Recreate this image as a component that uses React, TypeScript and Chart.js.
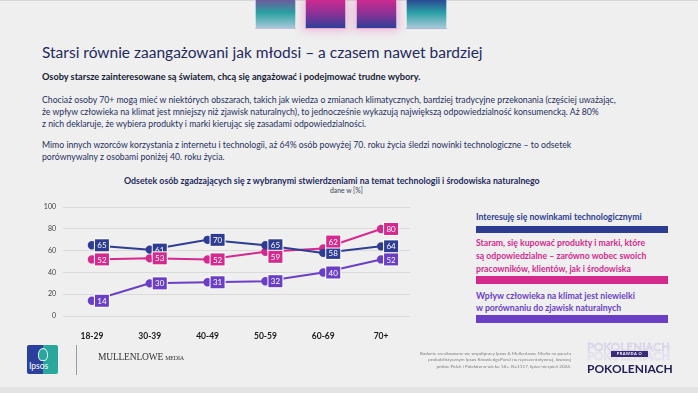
import React, { useEffect, useRef } from 'react';
import { Chart, registerables } from 'chart.js';

Chart.register(...registerables);

// ---------- data ----------
const categories = ['18-29', '30-39', '40-49', '50-59', '60-69', '70+'];
const techValues = [65, 61, 70, 65, 58, 64];
const responsibleValues = [52, 53, 52, 59, 62, 80];
const climateValues = [14, 30, 31, 32, 40, 52];
const yTickValues = [0, 20, 40, 60, 80, 100];

const techName = ['Interesuję się nowinkami technologicznymi'];
const responsibleName = [
  'Staram, się kupować produkty i marki, które',
  'są odpowiedzialne – zarówno wobec swoich',
  'pracowników, klientów, jak i środowiska',
];
const climateName = [
  'Wpływ człowieka na klimat jest niewielki',
  'w porównaniu do zjawisk naturalnych',
];

const titleText = 'Starsi równie zaangażowani jak młodsi – a czasem nawet bardziej';
const leadText = 'Osoby starsze zainteresowane są światem, chcą się angażować i podejmować trudne wybory.';
const para1 = [
  'Chociaż osoby 70+ mogą mieć w niektórych obszarach, takich jak wiedza o zmianach klimatycznych, bardziej tradycyjne przekonania (częściej uważając,',
  'że wpływ człowieka na klimat jest mniejszy niż zjawisk naturalnych), to jednocześnie wykazują największą odpowiedzialność konsumencką. Aż 80%',
  'z nich deklaruje, że wybiera produkty i marki kierując się zasadami odpowiedzialności.',
];
const para2 = [
  'Mimo innych wzorców korzystania z internetu i technologii, aż 64% osób powyżej 70. roku życia śledzi nowinki technologiczne – to odsetek',
  'porównywalny z osobami poniżej 40. roku życia.',
];
const chartTitle = 'Odsetek osób zgadzających się z wybranymi stwierdzeniami na temat technologii i środowiska naturalnego';
const chartSubtitle = 'dane w [%]';
const footNote = [
  'Badanie zrealizowane we współpracy Ipsos & MullenLowe Media na panelu',
  'probabilistycznym Ipsos KnowledgePanel na reprezentatywnej, losowej',
  'próbie Polek i Polaków w wieku 18+, N=1117, lipiec-sierpień 2024.',
];

// ---------- style ----------
const BLUE = '#2e3d92';
const MAGENTA = '#d42a8e';
const PURPLE = '#6a3fc6';
const NAVY = '#1f2a5e';
const FONT = "Lato, 'Open Sans', sans-serif";

// label nudges (dataset-index, point-index) -> vertical shift in px
const labelNudges: Record<string, number> = { '1-3': 5, '1-4': -7 };

const boxLabelPlugin = {
  id: 'boxLabels',
  afterDatasetsDraw(chart: any) {
    const ctx = chart.ctx;
    ctx.save();
    chart.data.datasets.forEach((ds: any, di: number) => {
      const meta = chart.getDatasetMeta(di);
      meta.data.forEach((pt: any, i: number) => {
        const v = ds.data[i];
        const nudge = labelNudges[`${di}-${i}`] || 0;
        const w = 14;
        const h = 12;
        const cx = pt.x + 10;
        const cy = pt.y + nudge;
        if (nudge) {
          ctx.strokeStyle = '#b0b0b0';
          ctx.lineWidth = 0.8;
          ctx.beginPath();
          ctx.moveTo(pt.x + 2, pt.y);
          ctx.lineTo(cx - w / 2, cy + (nudge > 0 ? -h / 2 : h / 2));
          ctx.stroke();
        }
        ctx.fillStyle = '#ffffff';
        ctx.fillRect(cx - w / 2 - 1, cy - h / 2 - 1, w + 2, h + 2);
        ctx.fillStyle = ds.borderColor;
        ctx.fillRect(cx - w / 2, cy - h / 2, w, h);
        ctx.fillStyle = '#ffffff';
        ctx.font = `8px ${FONT}`;
        ctx.textAlign = 'center';
        ctx.textBaseline = 'middle';
        ctx.fillText(String(v), cx, cy + 0.5);
      });
    });
    ctx.restore();
  },
};

function LineChart() {
  const ref = useRef<HTMLCanvasElement>(null);
  useEffect(() => {
    if (!ref.current) return;
    const mk = (label: string, data: number[], color: string) => ({
      label,
      data,
      borderColor: color,
      backgroundColor: color,
      pointBackgroundColor: color,
      pointBorderColor: color,
      borderWidth: 2,
      pointRadius: 3.2,
      tension: 0,
    });
    const chart = new Chart(ref.current, {
      type: 'line',
      data: {
        labels: categories,
        datasets: [
          mk(techName.join(' '), techValues, BLUE),
          mk(responsibleName.join(' '), responsibleValues, MAGENTA),
          mk(climateName.join(' '), climateValues, PURPLE),
        ],
      },
      options: {
        animation: false,
        responsive: false,
        maintainAspectRatio: false,
        layout: { padding: { left: 0, right: 10, top: 10, bottom: 0 } },
        plugins: { legend: { display: false }, tooltip: { enabled: false } },
        scales: {
          x: {
            offset: true,
            grid: { display: false },
            border: { display: false },
            ticks: { color: '#1a1a1a', font: { family: FONT, size: 8.5, weight: 'bold' }, padding: 7 },
            afterFit: (s: any) => { s.height = 25; },
          },
          y: {
            min: 0,
            max: 100,
            afterBuildTicks: (s: any) => { s.ticks = yTickValues.map((v) => ({ value: v })); },
            grid: { color: '#dadada', lineWidth: 1, drawTicks: false },
            border: { display: false },
            ticks: { color: '#404040', font: { family: FONT, size: 7 }, padding: 7 },
            afterFit: (s: any) => { s.width = 43; },
          },
        },
      },
      plugins: [boxLabelPlugin],
    });
    return () => chart.destroy();
  }, []);
  return <canvas ref={ref} width={400} height={145} style={{ position: 'absolute', left: 20, top: 196, width: 400, height: 145 }} />;
}

const abs = (o: React.CSSProperties): React.CSSProperties => ({ position: 'absolute', whiteSpace: 'nowrap', ...o });

function Square({ left, grad, glow }: { left: number; grad: string; glow?: boolean }) {
  return (
    <div style={abs({ left, top: 0, width: 39, height: 28, background: grad, border: '1px solid rgba(255,255,255,0.6)', borderTop: 'none', boxShadow: glow ? '0 0 9px 2px rgba(225,90,180,0.35)' : 'none' })} />
  );
}

export default function App() {
  const lineDiv = (text: string, top: number, style: React.CSSProperties, key?: any) => (
    <div key={key} style={abs({ left: 42, top, lineHeight: '12px', ...style })}>{text}</div>
  );
  const legendLine = (text: string, top: number, color: string, key?: any) => (
    <div key={key} style={abs({ left: 476, top, lineHeight: '12px', fontSize: 8.7, fontWeight: 700, color, fontFamily: FONT })}>{text}</div>
  );
  return (
    <div style={{ position: 'fixed', left: 0, top: 0, width: 698, height: 393, background: '#efefef', overflow: 'hidden', fontFamily: FONT }}>
      <div style={abs({ left: 0, top: 0, width: 698, height: 1, background: '#d6d6d6' })} />
      <div style={abs({ left: 0, top: 387, width: 698, height: 6, background: '#e3e3e3' })} />
      <Square left={255} grad="linear-gradient(#6d5a9c 0%, #2aa0a2 45%, #a6c9d8 100%)" />
      <Square left={305} grad="linear-gradient(#cc2a90 0%, #8a3296 50%, #2f3f98 100%)" glow />
      <Square left={356} grad="linear-gradient(#cc2a90 0%, #8a3296 50%, #2f3f98 100%)" glow />
      <Square left={406} grad="linear-gradient(#2a4a92 0%, #2aa0a6 45%, #a8c9d8 100%)" />

      {lineDiv(titleText, 42, { fontSize: 15.5, color: NAVY, lineHeight: '20px' })}
      {lineDiv(leadText, 71, { fontSize: 9.2, fontWeight: 700, color: '#161b36' })}
      {para1.map((t, i) => lineDiv(t, 94 + i * 12, { fontSize: 8.7, color: '#26305e' }, 'p1' + i))}
      {para2.map((t, i) => lineDiv(t, 139 + i * 12, { fontSize: 8.7, color: '#26305e' }, 'p2' + i))}

      <div style={abs({ left: 124, top: 175, lineHeight: '12px', fontSize: 8.8, fontWeight: 700, color: NAVY })}>{chartTitle}</div>
      <div style={abs({ left: 330, top: 185, lineHeight: '10px', fontSize: 6.8, color: '#3a3f5a' })}>{chartSubtitle}</div>

      <LineChart />

      {techName.map((t, i) => legendLine(t, 211 + i * 12.5, BLUE, 't' + i))}
      <div style={abs({ left: 476, top: 226, width: 192, height: 7, background: BLUE })} />
      {responsibleName.map((t, i) => legendLine(t, 237 + i * 12.8, MAGENTA, 'r' + i))}
      <div style={abs({ left: 476, top: 276, width: 192, height: 8, background: MAGENTA })} />
      {climateName.map((t, i) => legendLine(t, 290 + i * 11.8, PURPLE, 'c' + i))}
      <div style={abs({ left: 476, top: 315, width: 192, height: 8, background: PURPLE })} />

      {/* footer: Ipsos logo */}
      <div style={abs({ left: 27, top: 345, width: 31, height: 29, borderRadius: 2, overflow: 'hidden', background: 'linear-gradient(90deg, #2b3f9c 0 52%, #2aa79c 52% 100%)' })}>
        <div style={abs({ left: 11, top: 3, width: 8, height: 11, borderRadius: '50% 50% 40% 40%', background: '#2aa79c', border: '1px solid #e8f4f2' })} />
        <div style={abs({ left: 2, top: 16, fontSize: 8.5, color: '#ffffff', fontFamily: FONT, lineHeight: '10px' })}>Ipsos</div>
      </div>
      <div style={abs({ left: 76, top: 345, width: 1, height: 30, background: '#9a9a9a' })} />
      <div style={abs({ left: 98, top: 351, fontFamily: "'Liberation Serif', serif", fontSize: 9.5, color: '#333', lineHeight: '12px', letterSpacing: -0.2 })}>
        MULLENLOWE <span style={{ fontSize: 6 }}>MEDIA</span>
      </div>

      {footNote.map((t, i) => (
        <div key={'f' + i} style={abs({ right: 698 - 571, top: 350 + i * 6.4, fontSize: 4.6, color: '#808080', lineHeight: '6px', textAlign: 'right' })}>{t}</div>
      ))}

      {/* Prawda o pokoleniach logo */}
      <div style={abs({ left: 587, top: 341, fontSize: 11.5, fontWeight: 400, color: 'transparent', WebkitTextStroke: '0.5px #cbc3e3', lineHeight: '12px', letterSpacing: 0.2 })}>POKOLENIACH</div>
      <div style={abs({ left: 587, top: 350, fontSize: 11.5, fontWeight: 400, color: 'transparent', WebkitTextStroke: '0.5px #ddd6ee', lineHeight: '12px', letterSpacing: 0.2 })}>POKOLENIACH</div>
      <div style={abs({ left: 611, top: 351, width: 37, height: 6, background: '#3b2a78', color: '#fff', fontSize: 4, fontWeight: 700, lineHeight: '6px', textAlign: 'center', letterSpacing: 0.5 })}>PRAWDA O</div>
      <div style={abs({ left: 587, top: 362, fontSize: 12, fontWeight: 700, color: '#232058', lineHeight: '13px', letterSpacing: 0 })}>POKOLENIACH</div>
    </div>
  );
}
